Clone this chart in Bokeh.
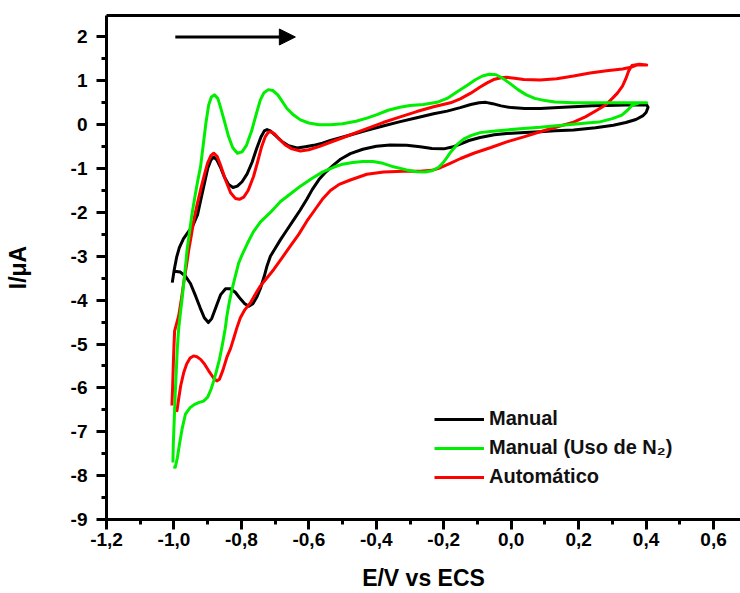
from bokeh.plotting import figure
from bokeh.models import (Range1d, FixedTicker, CustomJSTickFormatter, LinearAxis,
                          Legend, LegendItem, Arrow, NormalHead)
from bokeh.embed import file_html
from bokeh.resources import INLINE

# ---------------- data ----------------
manual_E = [-1.005, -0.999, -0.992, -0.984, -0.972, -0.958, -0.944, -0.930, -0.920, -0.910,
            -0.900, -0.890, -0.882, -0.873, -0.862, -0.850, -0.838, -0.825, -0.812, -0.798,
            -0.783, -0.768, -0.755, -0.742, -0.732, -0.724, -0.714, -0.700, -0.680, -0.660,
            -0.635, -0.610, -0.586, -0.560, -0.536, -0.480, -0.428, -0.380, -0.329, -0.280,
            -0.230, -0.190, -0.151, -0.120, -0.095, -0.075, -0.055, -0.030, 0.000, 0.040,
            0.086, 0.140, 0.185, 0.240, 0.283, 0.340, 0.402,
            0.406, 0.400, 0.390, 0.370, 0.340, 0.303, 0.250, 0.185, 0.130, 0.086,
            0.040, -0.013, -0.050, -0.092, -0.125, -0.151, -0.175, -0.200, -0.235, -0.270,
            -0.310, -0.359, -0.400, -0.440, -0.477, -0.505, -0.527, -0.550, -0.570, -0.590,
            -0.606, -0.626, -0.645, -0.665, -0.684, -0.700, -0.714, -0.724, -0.732, -0.744,
            -0.755, -0.766, -0.778, -0.790, -0.803, -0.818, -0.833, -0.847, -0.862, -0.875,
            -0.888, -0.898, -0.910, -0.922, -0.935, -0.951, -0.966, -0.981, -0.999]
manual_I = [-3.60, -3.30, -3.02, -2.80, -2.60, -2.45, -2.30, -2.05, -1.70, -1.35,
            -1.00, -0.80, -0.74, -0.80, -0.97, -1.20, -1.36, -1.43, -1.40, -1.30,
            -1.12, -0.85, -0.55, -0.28, -0.14, -0.11, -0.14, -0.24, -0.38, -0.48,
            -0.53, -0.50, -0.47, -0.42, -0.36, -0.24, -0.13, -0.03, 0.07, 0.16,
            0.25, 0.31, 0.39, 0.46, 0.50, 0.51, 0.48, 0.43, 0.39, 0.37,
            0.37, 0.39, 0.41, 0.43, 0.44, 0.45, 0.45,
            0.40, 0.28, 0.20, 0.12, 0.05, -0.01, -0.07, -0.12, -0.14, -0.16,
            -0.18, -0.20, -0.23, -0.29, -0.36, -0.44, -0.51, -0.55, -0.54, -0.50,
            -0.47, -0.46, -0.49, -0.56, -0.66, -0.78, -0.92, -1.08, -1.25, -1.48,
            -1.70, -1.95, -2.17, -2.40, -2.62, -2.82, -3.00, -3.22, -3.45, -3.74,
            -3.94, -4.08, -4.14, -4.08, -3.97, -3.82, -3.74, -3.74, -3.88, -4.15,
            -4.42, -4.51, -4.40, -4.18, -3.92, -3.62, -3.45, -3.36, -3.34]

n2_E = [-1.003, -1.002, -1.000, -0.998, -0.996, -0.993, -0.990, -0.986, -0.981, -0.976,
        -0.968, -0.961, -0.953, -0.946, -0.938, -0.930, -0.921, -0.913, -0.905, -0.897,
        -0.889, -0.880, -0.870, -0.862, -0.850, -0.838, -0.826, -0.812, -0.798, -0.785,
        -0.770, -0.756, -0.744, -0.733, -0.720, -0.707, -0.692, -0.678, -0.665, -0.645,
        -0.625, -0.600, -0.570, -0.536, -0.500, -0.460, -0.428, -0.398, -0.365, -0.330,
        -0.300, -0.260, -0.220, -0.190, -0.160, -0.130, -0.105, -0.085, -0.065, -0.045,
        -0.025, 0.000, 0.020, 0.045, 0.070, 0.100, 0.130, 0.185, 0.250, 0.330, 0.402,
        0.380, 0.358, 0.345, 0.328, 0.300, 0.260, 0.224, 0.185, 0.125, 0.086,
        0.027, -0.013, -0.055, -0.092, -0.120, -0.141, -0.160, -0.181, -0.200, -0.215,
        -0.235, -0.255, -0.280, -0.310, -0.349, -0.380, -0.410, -0.440, -0.470, -0.500,
        -0.527, -0.560, -0.590, -0.625, -0.655, -0.684, -0.714, -0.744, -0.765, -0.783,
        -0.797, -0.808, -0.818, -0.828, -0.836, -0.843, -0.848, -0.856, -0.865, -0.874,
        -0.882, -0.890, -0.900, -0.912, -0.925, -0.940, -0.952, -0.966, -0.976, -0.984,
        -0.990, -0.996, -1.002]
n2_I = [-7.70, -7.30, -6.90, -6.50, -6.10, -5.60, -5.10, -4.65, -4.30, -3.98,
        -3.40, -2.85, -2.40, -2.01, -1.65, -1.30, -0.95, -0.45, 0.05, 0.45,
        0.63, 0.68, 0.60, 0.40, 0.07, -0.27, -0.52, -0.65, -0.62, -0.47,
        -0.15, 0.24, 0.56, 0.73, 0.80, 0.78, 0.68, 0.52, 0.37, 0.22,
        0.11, 0.04, 0.00, 0.00, 0.02, 0.08, 0.15, 0.23, 0.33, 0.40,
        0.44, 0.46, 0.51, 0.60, 0.75, 0.90, 1.03, 1.11, 1.15, 1.14,
        1.06, 0.92, 0.80, 0.68, 0.60, 0.55, 0.52, 0.50, 0.50, 0.50, 0.50,
        0.50, 0.44, 0.33, 0.22, 0.14, 0.06, 0.04, 0.01, -0.03, -0.06,
        -0.09, -0.12, -0.15, -0.18, -0.25, -0.33, -0.45, -0.64, -0.85, -0.97,
        -1.05, -1.08, -1.07, -1.03, -0.96, -0.88, -0.84, -0.84, -0.86, -0.90,
        -0.97, -1.08, -1.22, -1.40, -1.58, -1.75, -2.00, -2.22, -2.45, -2.72,
        -2.95, -3.15, -3.45, -3.76, -4.05, -4.36, -4.65, -5.00, -5.35, -5.62,
        -5.84, -6.03, -6.21, -6.30, -6.33, -6.38, -6.45, -6.60, -6.94, -7.30,
        -7.60, -7.81, -7.80]

auto_E = [-1.006, -1.004, -1.002, -1.000, -0.998, -0.986, -0.978, -0.971, -0.963, -0.956,
          -0.948, -0.941, -0.932, -0.920, -0.910, -0.900, -0.890, -0.882, -0.872, -0.862,
          -0.847, -0.832, -0.818, -0.806, -0.793, -0.780, -0.764, -0.752, -0.740, -0.729,
          -0.720, -0.712, -0.700, -0.689, -0.670, -0.650, -0.625, -0.600, -0.570, -0.536,
          -0.480, -0.428, -0.380, -0.329, -0.280, -0.230, -0.180, -0.151, -0.120, -0.092,
          -0.070, -0.052, -0.030, -0.013, 0.010, 0.037, 0.086, 0.135, 0.185, 0.234,
          0.283, 0.330, 0.355, 0.372, 0.402,
          0.380, 0.358, 0.348, 0.340, 0.330, 0.315, 0.300, 0.280, 0.254, 0.220,
          0.185, 0.140, 0.086, 0.040, -0.013, -0.060, -0.111, -0.150, -0.181, -0.210,
          -0.235, -0.270, -0.319, -0.378, -0.428, -0.477, -0.510, -0.536, -0.560, -0.583,
          -0.606, -0.630, -0.655, -0.680, -0.704, -0.725, -0.744, -0.760, -0.773, -0.790,
          -0.803, -0.813, -0.822, -0.832, -0.843, -0.855, -0.865, -0.873, -0.882, -0.897,
          -0.910, -0.921, -0.932, -0.942, -0.952, -0.962, -0.971, -0.980, -0.987, -0.991,
          -0.995]
auto_I = [-6.40, -6.00, -5.50, -5.05, -4.70, -4.36, -3.98, -3.60, -3.22, -2.85,
          -2.50, -2.17, -1.85, -1.45, -1.15, -0.87, -0.70, -0.65, -0.72, -0.92,
          -1.26, -1.55, -1.68, -1.70, -1.65, -1.50, -1.18, -0.85, -0.50, -0.27,
          -0.17, -0.16, -0.22, -0.32, -0.46, -0.55, -0.60, -0.57, -0.50, -0.40,
          -0.24, -0.09, 0.05, 0.18, 0.30, 0.41, 0.50, 0.59, 0.72, 0.86,
          0.96, 1.03, 1.07, 1.08, 1.06, 1.03, 1.02, 1.05, 1.11, 1.18,
          1.23, 1.27, 1.31, 1.36, 1.36,
          1.38, 1.35, 1.22, 1.05, 0.88, 0.72, 0.60, 0.45, 0.33, 0.18,
          0.06, -0.04, -0.16, -0.27, -0.39, -0.52, -0.65, -0.77, -0.88, -0.98,
          -1.04, -1.06, -1.06, -1.08, -1.13, -1.26, -1.36, -1.50, -1.70, -1.95,
          -2.20, -2.50, -2.77, -3.04, -3.30, -3.50, -3.68, -3.88, -4.06, -4.22,
          -4.40, -4.62, -4.85, -5.10, -5.30, -5.60, -5.80, -5.84, -5.78, -5.61,
          -5.45, -5.35, -5.29, -5.27, -5.32, -5.45, -5.65, -5.95, -6.30, -6.52,
          -6.45]

series_labels = ["Manual", "Manual (Uso de N\u2082)", "Autom\u00e1tico"]
series_colors = ["#000000", "#00ee00", "#ff0000"]

x_ticks = [-1.2, -1.0, -0.8, -0.6, -0.4, -0.2, 0.0, 0.2, 0.4, 0.6]
x_minor = [-1.1, -0.9, -0.7, -0.5, -0.3, -0.1, 0.1, 0.3, 0.5]
y_ticks = [-9, -8, -7, -6, -5, -4, -3, -2, -1, 0, 1, 2]
y_minor = [-8.5, -7.5, -6.5, -5.5, -4.5, -3.5, -2.5, -1.5, -0.5, 0.5, 1.5]

arrow_E = [-0.996, -0.640]
arrow_I = [2.0, 2.0]

FONT = "Liberation Sans"

# ---------------- figure ----------------
p = figure(width=740, height=593, output_backend="svg", toolbar_location=None,
           x_range=Range1d(-1.2, 0.68), y_range=Range1d(-9.0, 2.49),
           min_border_left=106, min_border_right=0, min_border_top=15, min_border_bottom=72)
p.outline_line_color = None
p.grid.visible = False
p.background_fill_color = "white"
p.border_fill_color = "white"

p.xaxis.ticker = FixedTicker(ticks=x_ticks, minor_ticks=x_minor)
p.yaxis.ticker = FixedTicker(ticks=y_ticks, minor_ticks=y_minor)
p.xaxis.formatter = CustomJSTickFormatter(code="return tick.toFixed(1).replace('.', ',');")
p.yaxis.formatter = CustomJSTickFormatter(code="return tick.toFixed(0);")

for ax in (p.xaxis[0], p.yaxis[0]):
    ax.axis_line_width = 3
    ax.axis_line_color = "black"
    ax.major_tick_line_width = 3
    ax.minor_tick_line_width = 3
    ax.major_tick_in = 0
    ax.minor_tick_in = 0
    ax.major_tick_out = 10
    ax.minor_tick_out = 5
    ax.major_label_text_font = FONT
    ax.major_label_text_font_style = "bold"
    ax.major_label_text_font_size = "19px"
    ax.major_label_text_color = "black"
    ax.axis_label_text_font = FONT
    ax.axis_label_text_font_style = "bold"
    ax.axis_label_text_font_size = "23px"
    ax.axis_label_text_color = "black"

p.xaxis.axis_label = "E/V vs ECS"
p.xaxis.major_label_standoff = 3
p.xaxis.axis_label_standoff = 16
p.yaxis.axis_label = "I/\u03bcA"
p.yaxis.major_label_standoff = 9
p.yaxis.axis_label_standoff = 37

top = LinearAxis(ticker=FixedTicker(ticks=[]), major_label_text_font_size="0px",
                 major_tick_out=0, minor_tick_out=0, major_tick_in=0, minor_tick_in=0,
                 major_label_standoff=0, axis_line_width=3, axis_line_color="black")
p.add_layout(top, "above")

renderers = []
for E, I, c in ((manual_E, manual_I, series_colors[0]),
                (auto_E, auto_I, series_colors[2]),
                (n2_E, n2_I, series_colors[1])):
    renderers.append(p.line(E, I, line_color=c, line_width=3, line_join="round"))
r_manual, r_auto, r_n2 = renderers

p.add_layout(Arrow(end=NormalHead(size=16, fill_color="black", line_color="black", line_width=1),
                   x_start=arrow_E[0], y_start=arrow_I[0], x_end=arrow_E[1], y_end=arrow_I[1],
                   line_width=3, line_color="black"))

legend = Legend(items=[LegendItem(label=series_labels[0], renderers=[r_manual]),
                       LegendItem(label=series_labels[1], renderers=[r_n2]),
                       LegendItem(label=series_labels[2], renderers=[r_auto])],
                location=(328, 31), border_line_color=None, background_fill_alpha=0,
                padding=0, margin=0, glyph_width=50, glyph_height=22, label_height=22,
                spacing=6, label_standoff=5, label_text_font=FONT,
                label_text_font_style="bold",
                label_text_font_size="20px", label_text_color="#111111")
p.add_layout(legend)

open("out.html", "w").write(file_html(p, INLINE))
